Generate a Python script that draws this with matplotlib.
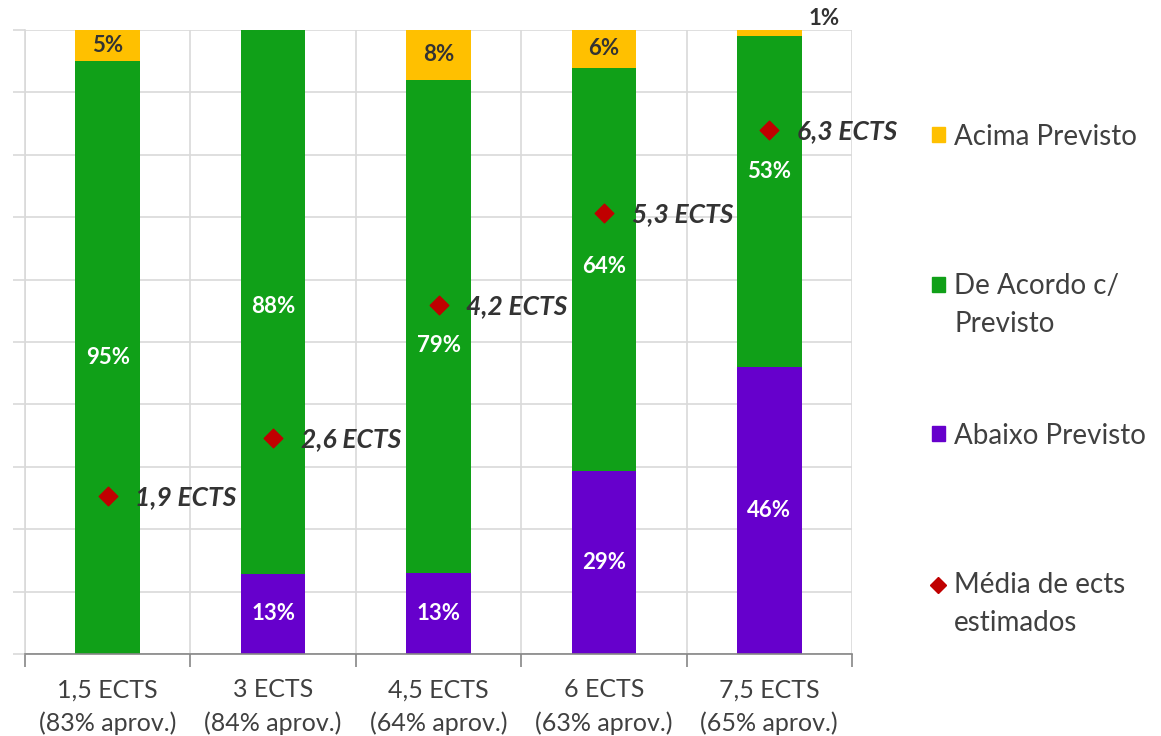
import matplotlib.pyplot as plt
from matplotlib.lines import Line2D
from matplotlib.patches import Patch
import numpy as np

plt.rcParams['font.family'] = ['Lato', 'DejaVu Sans']

categorias = ['1,5 ECTS\n(83% aprov.)', '3 ECTS\n(84% aprov.)', '4,5 ECTS\n(64% aprov.)',
              '6 ECTS\n(63% aprov.)', '7,5 ECTS\n(65% aprov.)']
abaixo = [0, 13, 13, 29, 46]
acordo = [95, 88, 79, 64, 53]
acima = [5, 0, 8, 6, 1]
media_ects = [1.9, 2.6, 4.2, 5.3, 6.3]
media_labels = ['1,9 ECTS', '2,6 ECTS', '4,2 ECTS', '5,3 ECTS', '6,3 ECTS']
legend_labels = ['Acima Previsto', 'De Acordo c/\nPrevisto', 'Abaixo Previsto',
                 'Média de ects\nestimados']

c_acima = '#FFC000'
c_acordo = '#10A018'
c_abaixo = '#6600CC'
c_media = '#C00000'

fig = plt.figure(figsize=(11.61, 7.36), dpi=100)
ax = fig.add_axes([25 / 1161, 82 / 736, 827 / 1161, 624 / 736])

x = np.arange(len(categorias))
w = 0.39
# normalise so each bar fills 100%
tot = np.array(abaixo) + np.array(acordo) + np.array(acima)
ab = np.array(abaixo) / tot * 100
ac = np.array(acordo) / tot * 100
am = np.array(acima) / tot * 100

ax.bar(x, ab, w, color=c_abaixo, zorder=2)
ax.bar(x, ac, w, bottom=ab, color=c_acordo, zorder=2)
ax.bar(x, am, w, bottom=ab + ac, color=c_acima, zorder=2)

# a couple of green labels were nudged in the original so they clear the markers
acordo_dy = [0, -0.8, -3, 0.5, 4.8]

for i in x:
    if abaixo[i] > 0:
        ax.text(i, ab[i] / 2, f'{abaixo[i]}%', ha='center', va='center',
                color='white', fontsize=16, fontweight='bold', zorder=3)
    ax.text(i, ab[i] + ac[i] / 2 + acordo_dy[i], f'{acordo[i]}%', ha='center', va='center',
            color='white', fontsize=16, fontweight='bold', zorder=3)
    if acima[i] >= 3:
        ax.text(i, ab[i] + ac[i] + am[i] / 2, f'{acima[i]}%', ha='center', va='center',
                color='#333333', fontsize=16, fontweight='bold', zorder=3)
    elif acima[i] > 0:
        ax.text(i + 0.33, 100.2, f'{acima[i]}%', ha='center', va='bottom',
                color='#333333', fontsize=16, fontweight='bold', zorder=3, clip_on=False)

ax.set_xlim(-0.5, len(categorias) - 0.5)
ax.set_ylim(0, 100)
ax.set_yticks(np.arange(0, 101, 10))
ax.set_yticklabels([])
ax.set_xticks(x)
ax.set_xticklabels(categorias, fontsize=18, color='#404040', linespacing=1.5)
ax.set_xticks(np.arange(-0.5, len(categorias), 1), minor=True)
ax.tick_params(axis='x', which='major', length=0, pad=17.5)
ax.tick_params(axis='x', which='minor', length=9, color='#868686', width=1.2)
ax.tick_params(axis='y', length=9, color='#d9d9d9', width=1.2)
ax.grid(axis='y', color='#d9d9d9', linewidth=1.2, zorder=0)
ax.grid(axis='x', which='minor', color='#d9d9d9', linewidth=1.2, zorder=0)
for s in ['top', 'right']:
    ax.spines[s].set_visible(False)
ax.spines['left'].set_color('#d9d9d9')
ax.spines['left'].set_linewidth(1.2)
ax.spines['bottom'].set_color('#868686')
ax.spines['bottom'].set_linewidth(1.2)
ax.spines['bottom'].set_zorder(4)

ax2 = ax.twinx()
ax2.set_ylim(0, 7.5)
ax2.scatter(x, media_ects, marker='D', s=90, color=c_media, zorder=5)
for i in x:
    ax2.annotate(media_labels[i], (x[i], media_ects[i]), xytext=(20, -1),
                 textcoords='offset points', va='center', ha='left',
                 fontsize=19, fontweight='bold', fontstyle='italic', color='#333333')
ax2.axis('off')

# legend: handle sits on the first line, second line hangs below it (Excel style)
handles = [Patch(color=c_acima), Patch(color=c_acordo), Patch(color=c_abaixo),
           Line2D([], [], marker='D', color=c_media, linestyle='none', markersize=8)]
first_lines = [l.split('\n')[0] for l in legend_labels]
leg = fig.legend(handles, first_lines, loc='center left', bbox_to_anchor=(932 / 1161, 0.5095),
                 frameon=False, fontsize=20, labelspacing=4.45, handlelength=0.45,
                 handleheight=0.45, handletextpad=0.35, borderpad=0, borderaxespad=0)
for t, full in zip(leg.get_texts(), legend_labels):
    t.set_color('#404040')
    parts = full.split('\n')
    if len(parts) > 1:
        extra = plt.Annotation(parts[1], xy=(0, 0.5), xycoords=t,
                               xytext=(0, -27), textcoords='offset points',
                               va='center', ha='left', fontsize=20, color='#404040')
        extra.set_zorder(10)
        fig.add_artist(extra)

fig.savefig('out.png', dpi=100)
